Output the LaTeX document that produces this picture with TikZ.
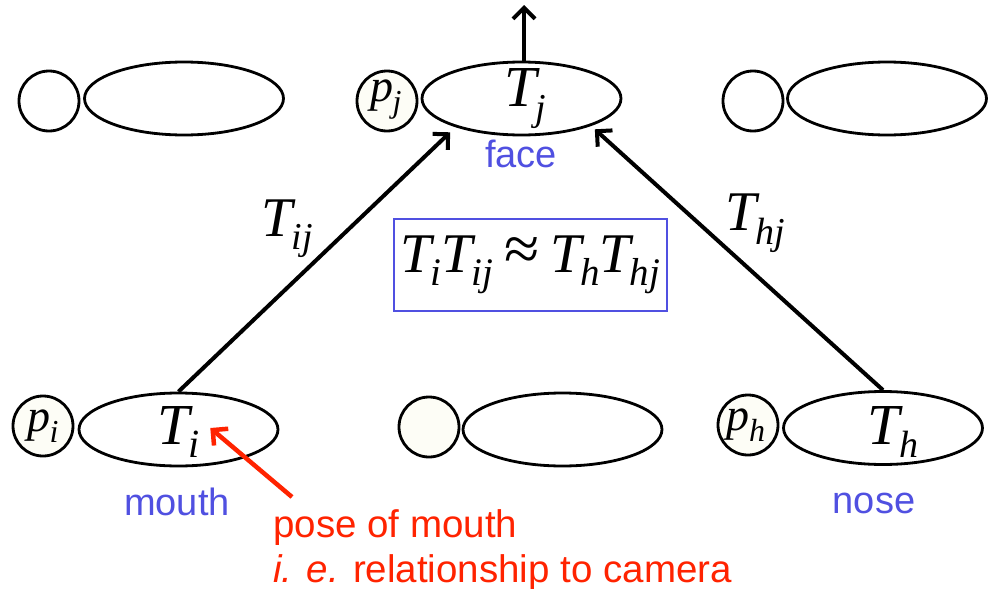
\documentclass[tikz,border=0pt]{standalone}
\usepackage{fontspec}
\setmainfont{Liberation Sans}
\newfontfamily\mfont{Liberation Serif}
\usetikzlibrary{shapes.geometric,arrows.meta,calc}
\newcommand\ms[4]{{\mfont\itshape\fontsize{#1}{#1}\selectfont #3\kern-0.02em\raisebox{-0.24em}{\fontsize{#2}{#2}\selectfont #4}}}
\definecolor{lblue}{RGB}{80,80,225}
\definecolor{lred}{RGB}{255,35,0}
\definecolor{ivory}{RGB}{253,253,246}
\begin{document}
\begin{tikzpicture}[x=1pt,y=-1pt,
 ell/.style={draw,ellipse,line width=2.8pt,minimum width=199pt,minimum height=73pt,inner sep=0pt},
 circ/.style={draw,circle,line width=2.8pt,minimum size=60pt,inner sep=0pt},
 lbl/.style={inner sep=0pt},
 tag/.style={inner sep=0pt,text=lblue,font=\fontsize{38}{38}\selectfont,anchor=base},
 note/.style={inner sep=0pt,text=lred,font=\fontsize{38.5}{38.5}\selectfont,anchor=base west},
 arr/.style={line width=4pt,-{Straight Barb[length=11pt,width=22pt]}},
 redarr/.style={lred,line width=4.5pt,-{Straight Barb[length=11pt,width=22pt]}},
]
\useasboundingbox[fill=white] (0,0) rectangle (989,589);
% top row
\node[circ] (c1) at (49,101) {};
\node[ell] (e1) at (184,98.5) {};
\node[circ,fill=ivory] (pjc) at (387,101) {};
\node[ell] (Tj) at (521.5,98.5) {};
\node[circ] (c3) at (753,101) {};
\node[ell] (e3) at (887,98.5) {};
\node[lbl] (pj) at (386,100) {\ms{46}{32}{p}{j}};
\node[lbl] (Tjl) at (525,98.5) {\ms{58}{38}{T}{j}};
\node[tag] (face) at (521,167) {face};
% bottom row
\node[circ,fill=ivory] (pic) at (43,426) {};
\node[ell] (Ti) at (178.5,429.5) {};
\node[circ,fill=ivory] (c5) at (429,427) {};
\node[ell] (e5) at (562.5,429.5) {};
\node[circ,fill=ivory] (phc) at (748,425) {};
\node[ell] (Th) at (883,428) {};
\node[lbl] (pi) at (43,426) {\ms{46}{32}{p}{i}};
\node[lbl] (Til) at (179,432) {\ms{58}{40}{T}{i}};
\node[lbl] (ph) at (746,425) {\ms{46}{32}{p}{h}};
\node[lbl] (Thl) at (893,432) {\ms{58}{38}{T}{h}};
\node[tag] (mouth) at (177,515) {mouth};
\node[tag] (nose) at (874,513) {nose};
% equation box
\node[draw=lblue,line width=2.4pt,minimum width=273pt,minimum height=92pt,inner sep=0pt] (eq) at (530.5,265)
 {\ms{56}{39}{T}{i}\ms{56}{39}{T}{ij}\hspace{11pt}{\mfont\fontsize{64}{64}\selectfont\raisebox{2pt}{≈}}\hspace{11pt}\ms{56}{39}{T}{h}\ms{56}{39}{T}{hj}};
% edge labels
\node[lbl] (Tij) at (287.5,228.5) {\ms{56}{38}{T}{ij}};
\node[lbl] (Thj) at (755,223) {\ms{56}{38}{T}{hj}};
% arrows
\draw[arr] (Ti.north) -- ($(Tj.south west)+(0,7)$);
\draw[arr] (Th.north) -- ($(Tj.south east)+(2,4)$);
\coordinate (up) at (524,5);
\draw[arr] (Tj.north -| up) -- (up);
% red note
\node[note] (red1) at (273,537) {pose of mouth};
\node[note] (red2) at (273,582) {\textit{i. e.} relationship to camera};
\coordinate (rt) at (292,497);
\draw[redarr] (rt) -- ($(Til.east)+(10,-4)$);
\end{tikzpicture}
\end{document}
